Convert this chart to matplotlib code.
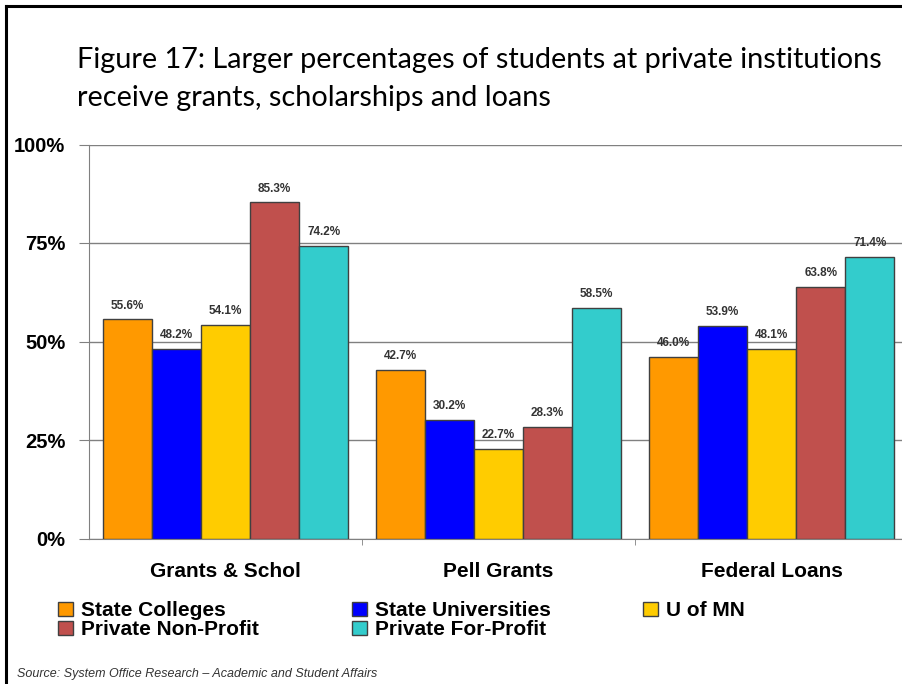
import matplotlib.pyplot as plt
from matplotlib.lines import Line2D
import numpy as np

plt.rcParams['font.family'] = 'Liberation Sans'

# data
categories = ['Grants & Schol', 'Pell Grants', 'Federal Loans']
series_names = ['State Colleges', 'State Universities', 'U of MN',
                'Private Non-Profit', 'Private For-Profit']
state_colleges = [55.6, 42.7, 46.0]
state_universities = [48.2, 30.2, 53.9]
u_of_mn = [54.1, 22.7, 48.1]
private_non_profit = [85.3, 28.3, 63.8]
private_for_profit = [74.2, 58.5, 71.4]
yticks = [0, 25, 50, 75, 100]
ytick_labels = ['0%', '25%', '50%', '75%', '100%']

series = [state_colleges, state_universities, u_of_mn,
          private_non_profit, private_for_profit]
colors = ['#FF9900', '#0000FF', '#FFCC00', '#C0504D', '#33CCCC']

W, H = 902, 684
fig = plt.figure(figsize=(W / 100, H / 100), dpi=100)
ax = fig.add_axes([89 / W, (H - 538.5) / H, (908 - 89) / W, (538.5 - 144.5) / H])

x = np.arange(len(categories))
bw = 0.18
bars = []
for i, (vals, c) in enumerate(zip(series, colors)):
    b = ax.bar(x + (i - 2) * bw, vals, bw, color=c, edgecolor='#404040',
               linewidth=1.0, zorder=3, label=series_names[i])
    bars.append(b)
    for rect, v in zip(b, vals):
        ax.annotate(f'{v:.1f}%', (rect.get_x() + rect.get_width() / 2, v),
                    xytext=(0, 10), textcoords='offset points',
                    ha='center', va='center', fontsize=8.5, fontweight='bold',
                    color='#333333', zorder=4)

ax.set_xlim(-0.5, 2.5)
ax.set_ylim(0, 100)
ax.set_yticks(yticks)
ax.set_yticklabels(ytick_labels, fontsize=14.5, fontweight='bold')
ax.set_xticks(x)
ax.set_xticklabels(categories, fontsize=15, fontweight='bold')
ax.set_xticks([0.5, 1.5], minor=True)
ax.tick_params(axis='x', which='major', length=0, pad=17)
ax.tick_params(axis='x', which='minor', length=4, color='#808080')
ax.tick_params(axis='y', length=7, pad=10, color='#808080')
ax.grid(axis='y', color='#808080', linewidth=1, zorder=0)
for s in ['top', 'right']:
    ax.spines[s].set_visible(False)
for s in ['left', 'bottom']:
    ax.spines[s].set_color('#808080')

# title
fig.text(77 / W, 1 - 47 / H, 'Figure 17: Larger percentages of students at private institutions\n'
         'receive grants, scholarships and loans', family='Lato', fontsize=20.8,
         ha='left', va='top', linespacing=1.55)

# legend (column order so rows read like the reference)
order = [0, 3, 1, 4, 2]
fig.legend([bars[i] for i in order], [series_names[i] for i in order],
           loc='upper left', bbox_to_anchor=(48 / W, 1 - 591 / H), ncol=3,
           frameon=False, borderpad=0, handlelength=0.7, handleheight=0.7,
           handletextpad=0.4, columnspacing=4.45, labelspacing=0.0,
           prop={'weight': 'bold', 'size': 15})

fig.text(17 / W, 1 - 674 / H, 'Source: System Office Research \u2013 Academic and Student Affairs',
         fontsize=9, style='italic', color='#333333', va='center')

# slide frame
fig.add_artist(Line2D([6 / W, 6 / W], [0, 1 - 6 / H], color='black', linewidth=2.2,
                      transform=fig.transFigure))
fig.add_artist(Line2D([6 / W, 1], [1 - 6 / H, 1 - 6 / H], color='black', linewidth=2.2,
                      transform=fig.transFigure))

fig.savefig('out.png', dpi=100)
